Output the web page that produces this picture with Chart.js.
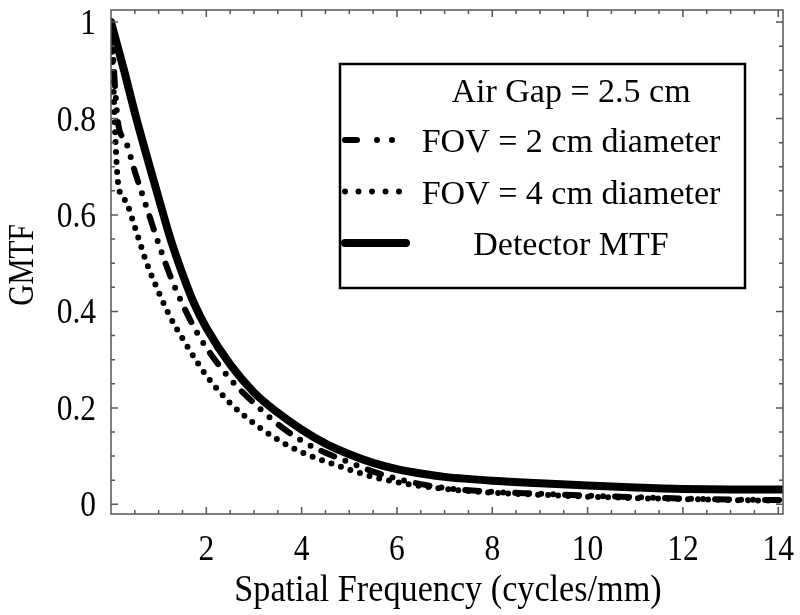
<!DOCTYPE html>
<html>
<head>
<meta charset="utf-8">
<script src="https://cdn.jsdelivr.net/npm/chart.js@4/dist/chart.umd.min.js"></script>
<style>
  html, body { margin: 0; padding: 0; background: #fff; }
</style>
</head>
<body>
<canvas id="gmtfChart" width="800" height="615"></canvas>
<script>
// spatial frequency samples (cycles/mm)
var freq        = [0, 0.15, 0.3, 0.5, 0.75, 1, 1.25, 1.5, 1.75, 2, 2.5, 3, 3.5, 4, 4.5, 5, 5.5, 6, 6.5, 7, 8, 9, 10, 11, 12, 13, 14, 14.1];
var fov2cm      = [1.0, 0.79, 0.755, 0.69, 0.615, 0.54, 0.472, 0.415, 0.366, 0.325, 0.26, 0.21, 0.166, 0.132, 0.107, 0.087, 0.068, 0.053, 0.042, 0.034, 0.026, 0.022, 0.018, 0.015, 0.012, 0.010, 0.009, 0.009];
var fov4cm      = [1.0, 0.665, 0.63, 0.575, 0.50, 0.44, 0.387, 0.344, 0.304, 0.267, 0.21, 0.168, 0.134, 0.108, 0.089, 0.072, 0.057, 0.046, 0.038, 0.032, 0.024, 0.020, 0.016, 0.013, 0.011, 0.009, 0.008, 0.008];
var detectorMtf = [1.0, 0.945, 0.89, 0.812, 0.722, 0.635, 0.55, 0.478, 0.415, 0.366, 0.29, 0.232, 0.19, 0.155, 0.126, 0.104, 0.086, 0.073, 0.064, 0.057, 0.049, 0.044, 0.039, 0.035, 0.032, 0.031, 0.031, 0.031];

var xTickValues = [2, 4, 6, 8, 10, 12, 14];
var yTickValues = [0, 0.2, 0.4, 0.6, 0.8, 1];
var xTitle = 'Spatial Frequency (cycles/mm)';
var yTitle = 'GMTF';
var legendHeader = 'Air Gap = 2.5 cm';

var FONT = "'Liberation Serif', 'Times New Roman', serif";

function toPoints(ys) {
    return freq.map(function (x, i) { return { x: x, y: ys[i] }; });
}

// narrow serif text, like the original figure
function drawText(ctx, text, x, y, size, sx, align, rotate) {
    ctx.save();
    ctx.translate(x, y);
    if (rotate) ctx.rotate(-Math.PI / 2);
    ctx.scale(sx, 1);
    ctx.font = size + 'px ' + FONT;
    ctx.fillStyle = '#000';
    ctx.textAlign = align;
    ctx.textBaseline = 'alphabetic';
    ctx.fillText(text, 0, 0);
    ctx.restore();
}

// box frame with inward ticks on all four sides, plus axis texts
var frameTicks = {
    id: 'frameTicks',
    afterDatasetsDraw: function (chart) {
        var ctx = chart.ctx, a = chart.chartArea;
        var xs = chart.scales.x, ys = chart.scales.y;
        ctx.save();
        ctx.strokeStyle = '#555';
        ctx.lineWidth = 1.5;
        ctx.strokeRect(a.left, a.top, a.right - a.left, a.bottom - a.top);
        ctx.beginPath();
        for (var i = 1; i <= 28; i++) {
            var px = xs.getPixelForValue(i * 0.5);
            var len = (i % 4 === 0) ? 7 : 4;
            ctx.moveTo(px, a.bottom); ctx.lineTo(px, a.bottom - len);
            ctx.moveTo(px, a.top); ctx.lineTo(px, a.top + len);
        }
        for (var j = 0; j <= 20; j++) {
            var py = ys.getPixelForValue(j * 0.05);
            var l2 = (j % 4 === 0) ? 7 : 4;
            ctx.moveTo(a.left, py); ctx.lineTo(a.left + l2, py);
            ctx.moveTo(a.right, py); ctx.lineTo(a.right - l2, py);
        }
        ctx.stroke();
        ctx.restore();

        xTickValues.forEach(function (v) {
            drawText(ctx, String(v), xs.getPixelForValue(v), a.bottom + 46, 35, 0.9, 'center');
        });
        yTickValues.forEach(function (v) {
            drawText(ctx, String(v), a.left - 15, ys.getPixelForValue(v) + 12, 35, 0.9, 'right');
        });
        drawText(ctx, xTitle, (a.left + a.right) / 2 + 1, a.bottom + 87, 38, 0.9, 'center');
        drawText(ctx, yTitle, a.left - 78, (a.top + a.bottom) / 2 + 3, 35, 0.84, 'center', true);
    }
};

// boxed legend in the upper right
var boxLegend = {
    id: 'boxLegend',
    afterDraw: function (chart) {
        var ctx = chart.ctx, a = chart.chartArea;
        var bx = a.left + 229, by = a.top + 54, bw = 405, bh = 224;
        ctx.save();
        ctx.fillStyle = '#fff';
        ctx.fillRect(bx, by, bw, bh);
        ctx.strokeStyle = '#000';
        ctx.lineWidth = 2.5;
        ctx.strokeRect(bx, by, bw, bh);
        ctx.restore();

        var textX = bx + 231;
        drawText(ctx, legendHeader, textX, by + 38, 34, 1, 'center');

        chart.data.datasets.forEach(function (ds, k) {
            var y = by + 76 + k * 51.5;
            ctx.save();
            ctx.beginPath();
            ctx.strokeStyle = '#000';
            ctx.lineWidth = ds.borderWidth;
            ctx.lineCap = 'round';
            ctx.setLineDash(ds.legendDash || []);
            ctx.moveTo(bx + 5, y);
            ctx.lineTo(bx + ds.legendLen, y);
            ctx.stroke();
            ctx.restore();
            drawText(ctx, ds.label, textX, y + 12, 34, 1, 'center');
        });
    }
};

var ctx = document.getElementById('gmtfChart').getContext('2d');
var gmtfChart = new Chart(ctx, {
    type: 'line',
    data: {
        datasets: [
            {
                label: 'FOV = 2 cm diameter',
                data: toPoints(fov2cm),
                borderColor: '#000',
                borderWidth: 6,
                borderDash: [14, 12, 0, 12, 0, 12],
                borderCapStyle: 'round',
                legendDash: [12, 20, 0, 15, 0, 15],
                legendLen: 58
            },
            {
                label: 'FOV = 4 cm diameter',
                data: toPoints(fov4cm),
                borderColor: '#000',
                borderWidth: 6,
                borderDash: [0, 10],
                borderCapStyle: 'round',
                legendDash: [0, 13.5],
                legendLen: 60
            },
            {
                label: 'Detector MTF',
                data: toPoints(detectorMtf),
                borderColor: '#000',
                borderWidth: 8,
                borderCapStyle: 'round',
                legendLen: 66
            }
        ]
    },
    options: {
        responsive: false,
        animation: false,
        layout: { padding: { top: 10, right: 17, left: 0, bottom: 0 } },
        elements: {
            point: { radius: 0 },
            line: { tension: 0.4, cubicInterpolationMode: 'monotone', fill: false }
        },
        plugins: {
            legend: { display: false },
            tooltip: { enabled: false }
        },
        scales: {
            x: {
                type: 'linear',
                min: 0,
                max: 14.1,
                grid: { display: false, drawTicks: false },
                border: { display: false },
                ticks: { display: false },
                afterFit: function (s) { s.height = 101; s.paddingLeft = 0; s.paddingRight = 0; }
            },
            y: {
                min: -0.02,
                max: 1.025,
                grid: { display: false, drawTicks: false },
                border: { display: false },
                ticks: { display: false },
                afterFit: function (s) { s.width = 111; s.paddingTop = 0; s.paddingBottom = 0; }
            }
        }
    },
    plugins: [frameTicks, boxLegend]
});
</script>
</body>
</html>
